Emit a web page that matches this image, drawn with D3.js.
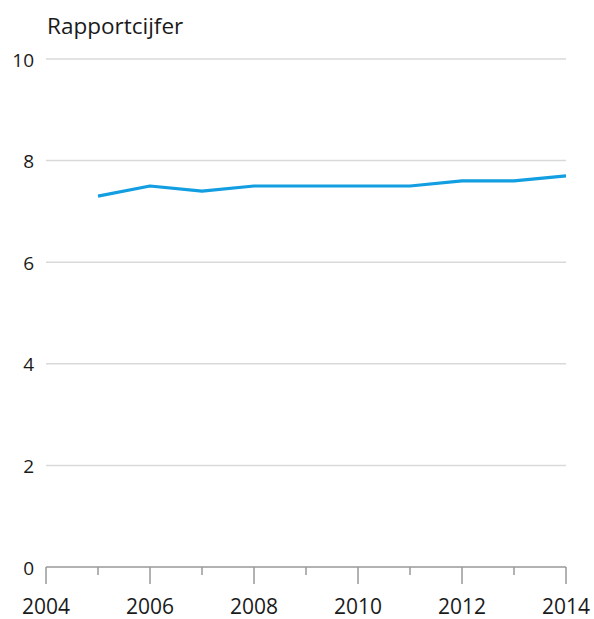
<!DOCTYPE html>
<html><head><meta charset="utf-8">
<script src="https://cdn.jsdelivr.net/npm/d3@7"></script>
<style>body{margin:0;background:#fff;} text{font-family:"Open Sans",sans-serif;fill:#1a1a1a;}</style>
</head><body>
<svg id="c" width="594" height="619"></svg>
<script>
const years = [2005,2006,2007,2008,2009,2010,2011,2012,2013,2014];
const values = [7.3,7.5,7.4,7.5,7.5,7.5,7.5,7.6,7.6,7.7];
const yTicks = [0,2,4,6,8,10];
const xMajor = [2004,2006,2008,2010,2012,2014];
const xMinor = [2005,2007,2009,2011,2013];
const yTitle = "Rapportcijfer";

const svg = d3.select("#c");
const x = d3.scaleLinear().domain([2004,2014]).range([46,566]);
const y = d3.scaleLinear().domain([0,10]).range([567,59]);

// gridlines
svg.append("g").selectAll("line").data(yTicks.filter(d=>d>0)).join("line")
  .attr("x1",46).attr("x2",566).attr("y1",d=>y(d)).attr("y2",d=>y(d))
  .attr("stroke","#d9d9d9").attr("stroke-width",1.5);

// y labels
svg.append("g").selectAll("text").data(yTicks).join("text")
  .attr("x",34).attr("y",d=>y(d)+1).attr("dy","0.35em").attr("text-anchor","end")
  .attr("font-size",19).text(d=>d);

svg.append("text").attr("x",47).attr("y",34).attr("font-size",22.5).text(yTitle);

// x axis
const gx = svg.append("g");
gx.append("line").attr("x1",x(2004)).attr("x2",x(2014)).attr("y1",y(0)).attr("y2",y(0))
  .attr("stroke","#999").attr("stroke-width",1.5);
gx.selectAll("line.maj").data(xMajor).join("line").attr("class","maj")
  .attr("x1",d=>x(d)).attr("x2",d=>x(d)).attr("y1",y(0)).attr("y2",y(0)+17)
  .attr("stroke","#999").attr("stroke-width",1.5);
gx.selectAll("line.min").data(xMinor).join("line").attr("class","min")
  .attr("x1",d=>x(d)).attr("x2",d=>x(d)).attr("y1",y(0)).attr("y2",y(0)+8)
  .attr("stroke","#999").attr("stroke-width",1.5);
gx.selectAll("text").data(xMajor).join("text")
  .attr("x",d=>x(d)).attr("y",607).attr("dy","0.35em").attr("text-anchor","middle")
  .attr("font-size",21).text(d=>d);

// line
svg.append("path").datum(years.map((d,i)=>[d,values[i]]))
  .attr("fill","none").attr("stroke","#129ee0").attr("stroke-width",3.2)
  .attr("stroke-linejoin","round")
  .attr("d",d3.line().x(d=>x(d[0])).y(d=>y(d[1])));
</script>
</body></html>
